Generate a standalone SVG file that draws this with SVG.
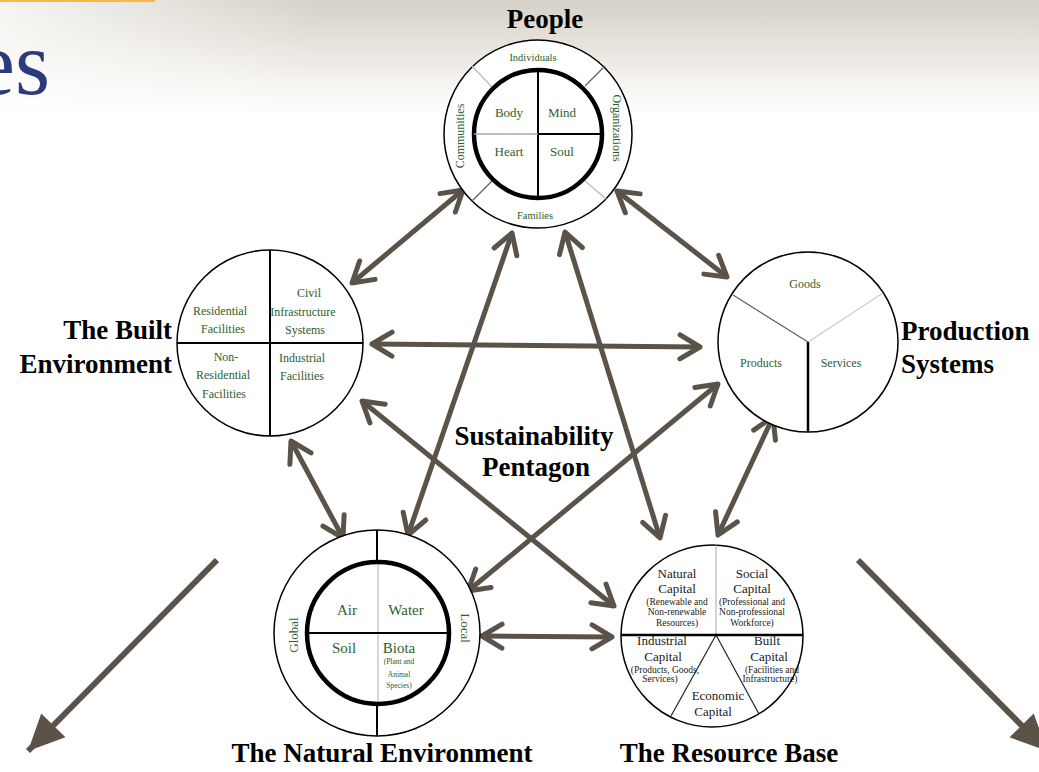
<svg xmlns="http://www.w3.org/2000/svg" width="1039" height="772" viewBox="0 0 1039 772">
<defs>
<linearGradient id="bg" x1="0" y1="0" x2="0" y2="1">
<stop offset="0" stop-color="#d6d1c7"/>
<stop offset="0.35" stop-color="#e5e1d9"/>
<stop offset="0.7" stop-color="#f5f3ef"/>
<stop offset="1" stop-color="#ffffff"/>
</linearGradient>
<linearGradient id="fadeL" x1="0" y1="0" x2="1" y2="0">
<stop offset="0" stop-color="#ffffff" stop-opacity="0.75"/>
<stop offset="1" stop-color="#ffffff" stop-opacity="0"/>
</linearGradient>
<marker id="ah" viewBox="-26 -17 32 34" refX="0" refY="0" markerWidth="32" markerHeight="34" markerUnits="userSpaceOnUse" orient="auto-start-reverse">
<path d="M-20,-12 L0,0 L-20,12" fill="none" stroke="#5b5248" stroke-width="5" stroke-linecap="round" stroke-linejoin="round"/>
</marker>
<marker id="tri" viewBox="-40 -20 42 40" refX="0" refY="0" markerWidth="42" markerHeight="40" markerUnits="userSpaceOnUse" orient="auto">
<path d="M0,0 L-36,-17 L-36,17 Z" fill="#5b5248"/>
</marker>
<style>
text{font-family:"Liberation Serif","Times New Roman",serif;}
.title{font-size:27px;font-weight:bold;fill:#000}
.g{fill:#2e5e2e;text-anchor:middle}
.k{fill:#1a1a1a;text-anchor:middle}
.c{fill:#fff;stroke:#000;stroke-width:1.5}
.thick{fill:none;stroke:#000;stroke-width:4.5}
.ln{stroke:#000;stroke-width:2}
.conn{stroke:#5b5248;stroke-width:5;fill:none;marker-start:url(#ah);marker-end:url(#ah)}
.big{stroke:#5b5248;stroke-width:6;fill:none;marker-end:url(#tri)}
.s12{font-size:12px}
.s10{font-size:10.5px}
.s9{font-size:9.5px}
.s7{font-size:7.5px}
.s13{font-size:13px}
.s15{font-size:15px}
</style>
</defs>

<g id="background">
<rect x="0" y="0" width="1039" height="772" fill="#fff"/>
<rect x="0" y="0" width="1039" height="115" fill="url(#bg)"/>
<rect x="0" y="0" width="320" height="115" fill="url(#fadeL)"/>
<rect x="0" y="0" width="155" height="2" fill="#f5b84a"/>
<text x="50" y="94" font-size="90" fill="#2a3a7c" text-anchor="end">es</text>
</g>

<g id="connectors">
<line class="conn" x1="463" y1="190" x2="352" y2="283"/>
<line class="conn" x1="617" y1="191" x2="727" y2="277"/>
<line class="conn" x1="372" y1="344" x2="700" y2="347"/>
<line class="conn" x1="512" y1="233" x2="408" y2="535"/>
<line class="conn" x1="565" y1="232" x2="660" y2="538"/>
<line class="conn" x1="362" y1="401" x2="614" y2="606"/>
<line class="conn" x1="718" y1="384" x2="468" y2="591"/>
<line class="conn" x1="291" y1="441" x2="343" y2="538"/>
<line class="conn" x1="773" y1="417" x2="718" y2="535"/>
<line class="conn" x1="482" y1="636" x2="612" y2="637"/>
<line class="big" x1="217" y1="560" x2="28" y2="751"/>
<line class="big" x1="858" y1="560" x2="1047" y2="751"/>
</g>

<g id="people">
<circle cx="538" cy="134" r="94" class="c"/>
<line x1="492" y1="87" x2="472" y2="66" stroke="#bbb" stroke-width="1.3"/>
<line x1="585" y1="86" x2="605" y2="66" stroke="#6b6259" stroke-width="1.3"/>
<line x1="492" y1="181" x2="472" y2="201" stroke="#6b6259" stroke-width="1.3"/>
<line x1="585" y1="181" x2="606" y2="199" stroke="#bbb" stroke-width="1.3"/>
<circle cx="538" cy="134" r="64" class="thick"/>
<line x1="538" y1="70" x2="538" y2="198" class="ln"/>
<line x1="474" y1="134" x2="538" y2="134" stroke="#aaa" stroke-width="1.5"/>
<line x1="538" y1="134" x2="602" y2="134" class="ln"/>
<text x="533" y="61" class="g s10">Individuals</text>
<text x="535" y="219" class="g s10">Families</text>
<text transform="translate(464,136) rotate(-90)" class="g s12">Communities</text>
<text transform="translate(613,128) rotate(90)" class="g s12">Organizations</text>
<text x="509" y="117" class="g s13">Body</text>
<text x="562" y="117" class="g s13">Mind</text>
<text x="509" y="156" class="g s13">Heart</text>
<text x="562" y="156" class="g s13">Soul</text>
<text x="545" y="28" class="title" text-anchor="middle">People</text>
</g>

<g id="built">
<circle cx="270" cy="343" r="93" class="c"/>
<line x1="270" y1="250" x2="270" y2="436" class="ln"/>
<line x1="177" y1="343" x2="363" y2="343" class="ln"/>
<text x="220" y="315" class="g s12">Residential</text>
<text x="223" y="333" class="g s12">Facilities</text>
<text x="309" y="297" class="g s12">Civil</text>
<text x="303" y="316" class="g s12">Infrastructure</text>
<text x="305" y="334" class="g s12">Systems</text>
<text x="226" y="361" class="g s12">Non-</text>
<text x="223" y="379" class="g s12">Residential</text>
<text x="224" y="398" class="g s12">Facilities</text>
<text x="302" y="362" class="g s12">Industrial</text>
<text x="302" y="380" class="g s12">Facilities</text>
<text x="172" y="339" class="title" text-anchor="end">The Built</text>
<text x="172" y="373" class="title" text-anchor="end">Environment</text>
</g>

<g id="production">
<circle cx="808" cy="342" r="90" class="c"/>
<line x1="808" y1="342" x2="733" y2="295" stroke="#6b6259" stroke-width="1.3"/>
<line x1="808" y1="342" x2="883" y2="293" stroke="#ccc" stroke-width="1.3"/>
<line x1="808" y1="342" x2="808" y2="432" stroke="#000" stroke-width="2.5"/>
<text x="805" y="288" class="g s12">Goods</text>
<text x="761" y="367" class="g s12">Products</text>
<text x="841" y="367" class="g s12">Services</text>
<text x="901" y="340" class="title">Production</text>
<text x="901" y="373" class="title">Systems</text>
</g>

<g id="natural">
<circle cx="377" cy="633" r="103" class="c"/>
<line x1="377" y1="530" x2="377" y2="562" class="ln"/>
<line x1="377" y1="704" x2="377" y2="736" class="ln"/>
<line x1="378" y1="562" x2="378" y2="704" stroke="#bbb" stroke-width="1.2"/>
<circle cx="378" cy="633" r="71" class="thick"/>
<line x1="307" y1="633" x2="449" y2="633" class="ln"/>
<text x="347" y="615" class="g s15">Air</text>
<text x="406" y="615" class="g s15">Water</text>
<text x="344" y="653" class="g s15">Soil</text>
<text x="399" y="653" class="g s15">Biota</text>
<text x="399" y="664" class="g s7">(Plant and</text>
<text x="399" y="677" class="g s7">Animal</text>
<text x="399" y="688" class="g s7">Species)</text>
<text transform="translate(298,635) rotate(-90)" class="g s13">Global</text>
<text transform="translate(461,628) rotate(90)" class="g s13">Local</text>
<text x="382" y="762" class="title" text-anchor="middle">The Natural Environment</text>
</g>

<g id="resource">
<circle cx="712" cy="636" r="91" class="c"/>
<line x1="716" y1="545" x2="716" y2="635" stroke="#aaa" stroke-width="1"/>
<line x1="716" y1="635" x2="671" y2="716" stroke="#222" stroke-width="1.2"/>
<line x1="716" y1="635" x2="759" y2="714" stroke="#222" stroke-width="1.2"/>
<line x1="621" y1="635" x2="803" y2="635" stroke="#000" stroke-width="2.5"/>
<text x="677" y="578" class="k s13">Natural</text>
<text x="677" y="593" class="k s13">Capital</text>
<text x="677" y="605" class="k s9">(Renewable and</text>
<text x="677" y="615" class="k s9">Non-renewable</text>
<text x="677" y="626" class="k s9">Resources)</text>
<text x="752" y="578" class="k s13">Social</text>
<text x="752" y="593" class="k s13">Capital</text>
<text x="752" y="605" class="k s9">(Professional and</text>
<text x="752" y="615" class="k s9">Non-professional</text>
<text x="752" y="626" class="k s9">Workforce)</text>
<text x="662" y="645" class="k s13">Industrial</text>
<text x="663" y="661" class="k s13">Capital</text>
<text x="665" y="673" class="k s9">(Products, Goods,</text>
<text x="660" y="682" class="k s9">Services)</text>
<text x="767" y="645" class="k s13">Built</text>
<text x="769" y="661" class="k s13">Capital</text>
<text x="772" y="673" class="k s9">(Facilities and</text>
<text x="770" y="682" class="k s9">Infrastructure)</text>
<text x="718" y="700" class="k s13">Economic</text>
<text x="713" y="716" class="k s13">Capital</text>
<text x="729" y="762" class="title" text-anchor="middle">The Resource Base</text>
</g>

<g id="label">
<text x="534" y="445" class="title" text-anchor="middle">Sustainability</text>
<text x="536" y="476" class="title" text-anchor="middle">Pentagon</text>
</g>
</svg>
